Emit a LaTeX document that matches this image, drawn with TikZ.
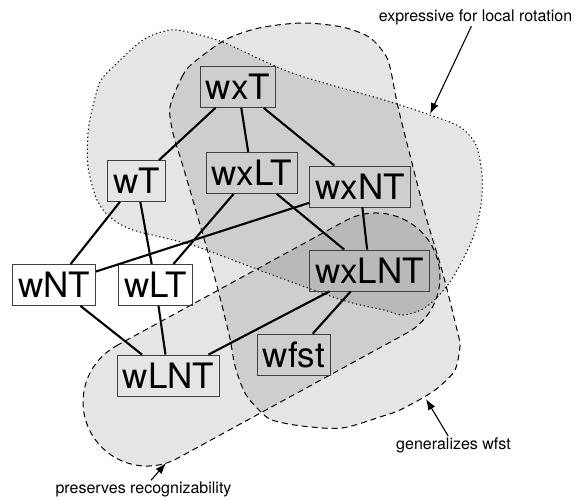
\documentclass[tikz,border=0pt]{standalone}
\usepackage{fontspec}
\setmainfont{TeX Gyre Heros}
\usetikzlibrary{arrows.meta}
\begin{document}
\begin{tikzpicture}[x=1pt,y=-1pt,
  cls/.style={draw=black!75,line width=0.8pt,inner xsep=5.5pt,inner ysep=0pt,minimum height=41pt,font=\fontsize{35}{40}\selectfont},
  region/.style={draw=black,line width=1pt,fill=black,fill opacity=0.1},
  dotline/.style={dash pattern=on 1.3pt off 2.7pt},
  dashline/.style={dash pattern=on 6pt off 4pt},
  link/.style={line width=2.1pt},
  note/.style={font=\fontsize{16}{19}\selectfont,inner sep=1pt},
  pointer/.style={-{Latex[length=11pt,width=8pt]},line width=1.1pt}]
  \useasboundingbox (0,0) rectangle (575,500);
  % regions
  \filldraw[region,dotline] plot[smooth cycle] coordinates {(170,30) (192,33) (225,43) (292,73) (384,100) (430,115) (460,127) (476,145) (482,175) (481,205) (472,240) (450,282) (426,307) (403,315) (384,310) (342,300) (259,270) (192,245) (133,230) (110,217) (97,200) (88,167) (88,133) (92,110) (100,82) (113,67) (143,40)};
  \filldraw[region,dashline] plot[smooth cycle] coordinates {(170,107) (182,77) (192,64) (225,40) (259,28) (302,23) (342,27) (369,37) (384,53) (390,67) (398,107) (413,167) (426,217) (443,274) (458,334) (460,346) (455,370) (440,386) (426,396) (400,410) (383,416) (342,428) (302,426) (272,420) (259,410) (245,393) (235,366) (229,334) (212,267) (192,197) (182,163) (173,133)};
  \filldraw[region,dashline] (116.3,345.8) -- (345.3,220.8) arc[start angle=241.37,end angle=421.37,radius=64] -- (177.7,458.2) arc[start angle=61.37,end angle=241.37,radius=64] -- cycle;
  % classes
  \node[cls] (wxT) at (238,87) {wxT};
  \node[cls] (wT) at (136.5,181) {wT};
  \node[cls] (wxLT) at (251.5,173) {wxLT};
  \node[cls] (wxNT) at (360,186.5) {wxNT};
  \node[cls] (wNT) at (54,285) {wNT};
  \node[cls] (wLT) at (155.5,285) {wLT};
  \node[cls] (wxLNT) at (369.5,270.5) {wxLNT};
  \node[cls] (wLNT) at (168.5,375.5) {wLNT};
  \node[cls] (wfst) at (294,354.5) {wfst};
  \draw[link] (wxT) -- (wT);
  \draw[link] (wxT) -- (wxLT);
  \draw[link] (wxT) -- (wxNT);
  \draw[link] (wT) -- (wNT);
  \draw[link] (wT) -- (wLT);
  \draw[link] (wxLT) -- (wLT);
  \draw[link] (wxLT) -- (wxLNT);
  \draw[link] (wxNT) -- (wNT);
  \draw[link] (wxNT) -- (wxLNT);
  \draw[link] (wNT) -- (wLNT);
  \draw[link] (wLT) -- (wLNT);
  \draw[link] (wxLNT) -- (wLNT);
  \draw[link] (wxLNT) -- (wfst);
  % notes
  \node[note] (rot) at (475.5,17.5) {expressive for local rotation};
  \node[note] (gen) at (453.5,445) {generalizes wfst};
  \node[note] (rec) at (143.5,489) {preserves recognizability};
  \coordinate (rottip) at (430,114);
  \coordinate (gentip) at (426,399);
  \coordinate (rectip) at (166,463);
  \draw[pointer] (rot) -- (rottip);
  \draw[pointer] (gen) -- (gentip);
  \draw[pointer] (rec) -- (rectip);
\end{tikzpicture}
\end{document}
